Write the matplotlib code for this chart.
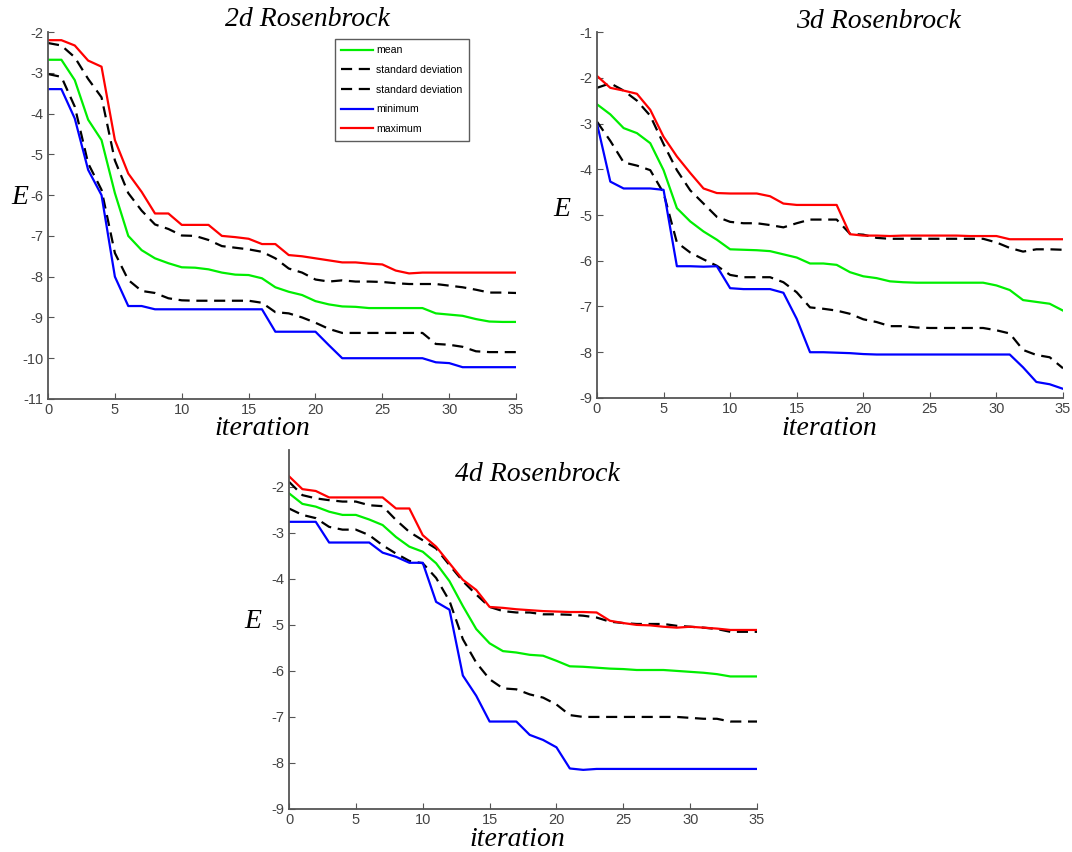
import matplotlib
matplotlib.use("Agg")
import matplotlib.pyplot as plt
import numpy as np

plt.rcParams["axes.unicode_minus"] = False

iters = np.arange(36)

# 2d Rosenbrock
max_2d = [-2.2, -2.2, -2.33, -2.7, -2.85, -4.65, -5.47, -5.92, -6.45, -6.45,
          -6.73, -6.73, -6.73, -7.0, -7.03, -7.07, -7.2, -7.2, -7.47, -7.5,
          -7.55, -7.6, -7.65, -7.65, -7.68, -7.7, -7.85, -7.92, -7.9, -7.9,
          -7.9, -7.9, -7.9, -7.9, -7.9, -7.9]
std_hi_2d = [-2.27, -2.33, -2.62, -3.15, -3.6, -5.15, -5.95, -6.38, -6.72, -6.83,
             -6.99, -7.0, -7.1, -7.25, -7.29, -7.33, -7.39, -7.55, -7.8, -7.9,
             -8.07, -8.12, -8.09, -8.12, -8.12, -8.13, -8.16, -8.18, -8.18, -8.18,
             -8.22, -8.26, -8.32, -8.39, -8.39, -8.4]
mean_2d = [-2.68, -2.68, -3.18, -4.15, -4.65, -5.95, -7.0, -7.35, -7.55, -7.67,
           -7.77, -7.78, -7.82, -7.9, -7.95, -7.96, -8.04, -8.26, -8.37, -8.45,
           -8.6, -8.68, -8.73, -8.74, -8.77, -8.77, -8.77, -8.77, -8.77, -8.9,
           -8.93, -8.96, -9.04, -9.1, -9.11, -9.11]
std_lo_2d = [-3.03, -3.1, -3.83, -5.22, -5.87, -7.42, -8.08, -8.35, -8.4, -8.53,
             -8.58, -8.59, -8.59, -8.59, -8.59, -8.59, -8.64, -8.87, -8.9, -9.0,
             -9.13, -9.28, -9.38, -9.38, -9.38, -9.38, -9.38, -9.38, -9.38, -9.65,
             -9.67, -9.72, -9.83, -9.85, -9.85, -9.85]
min_2d = [-3.4, -3.4, -4.12, -5.38, -6.0, -8.0, -8.72, -8.72, -8.8, -8.8,
          -8.8, -8.8, -8.8, -8.8, -8.8, -8.8, -8.8, -9.35, -9.35, -9.35,
          -9.35, -9.68, -10.0, -10.0, -10.0, -10.0, -10.0, -10.0, -10.0, -10.1,
          -10.12, -10.22, -10.22, -10.22, -10.22, -10.22]

# 3d Rosenbrock
max_3d = [-1.96, -2.22, -2.28, -2.35, -2.7, -3.29, -3.72, -4.08, -4.42, -4.52,
          -4.53, -4.53, -4.53, -4.59, -4.75, -4.78, -4.78, -4.78, -4.78, -5.42,
          -5.45, -5.45, -5.46, -5.45, -5.45, -5.45, -5.45, -5.45, -5.46, -5.46,
          -5.46, -5.53, -5.53, -5.53, -5.53, -5.53]
std_hi_3d = [-2.22, -2.12, -2.28, -2.5, -2.83, -3.45, -4.02, -4.46, -4.75, -5.04,
             -5.15, -5.18, -5.18, -5.22, -5.27, -5.18, -5.1, -5.1, -5.1, -5.41,
             -5.43, -5.5, -5.52, -5.52, -5.52, -5.52, -5.52, -5.52, -5.52, -5.52,
             -5.6, -5.72, -5.8, -5.75, -5.75, -5.76]
mean_3d = [-2.58, -2.8, -3.1, -3.21, -3.43, -4.02, -4.85, -5.14, -5.36, -5.54,
           -5.75, -5.76, -5.77, -5.79, -5.86, -5.93, -6.06, -6.06, -6.09, -6.25,
           -6.34, -6.38, -6.45, -6.47, -6.48, -6.48, -6.48, -6.48, -6.48, -6.48,
           -6.54, -6.64, -6.86, -6.9, -6.94, -7.09]
std_lo_3d = [-2.96, -3.38, -3.85, -3.92, -4.02, -4.52, -5.6, -5.82, -5.97, -6.11,
             -6.31, -6.36, -6.36, -6.36, -6.47, -6.69, -7.02, -7.05, -7.09, -7.16,
             -7.28, -7.34, -7.43, -7.43, -7.46, -7.47, -7.47, -7.47, -7.47, -7.47,
             -7.52, -7.59, -7.95, -8.06, -8.11, -8.35]
min_3d = [-3.0, -4.27, -4.42, -4.42, -4.42, -4.45, -6.12, -6.12, -6.13, -6.12,
          -6.6, -6.62, -6.62, -6.62, -6.7, -7.27, -8.0, -8.0, -8.01, -8.02,
          -8.04, -8.05, -8.05, -8.05, -8.05, -8.05, -8.05, -8.05, -8.05, -8.05,
          -8.05, -8.05, -8.33, -8.65, -8.7, -8.8]

# 4d Rosenbrock
max_4d = [-1.77, -2.05, -2.09, -2.23, -2.23, -2.23, -2.23, -2.23, -2.47, -2.47,
          -3.05, -3.3, -3.66, -4.02, -4.24, -4.61, -4.63, -4.66, -4.68, -4.7,
          -4.71, -4.72, -4.72, -4.73, -4.91, -4.96, -5.0, -5.01, -5.04, -5.06,
          -5.04, -5.06, -5.08, -5.11, -5.11, -5.11]
std_hi_4d = [-1.89, -2.18, -2.25, -2.29, -2.32, -2.32, -2.4, -2.42, -2.72, -2.98,
             -3.16, -3.34, -3.7, -4.05, -4.34, -4.61, -4.7, -4.73, -4.73, -4.77,
             -4.77, -4.78, -4.8, -4.84, -4.93, -4.96, -4.98, -4.98, -4.98, -5.02,
             -5.04, -5.06, -5.09, -5.15, -5.15, -5.15]
mean_4d = [-2.14, -2.37, -2.43, -2.54, -2.61, -2.61, -2.71, -2.83, -3.09, -3.3,
           -3.41, -3.66, -4.05, -4.59, -5.09, -5.4, -5.57, -5.6, -5.65, -5.67,
           -5.78, -5.9, -5.91, -5.93, -5.95, -5.96, -5.98, -5.98, -5.98, -6.0,
           -6.02, -6.04, -6.07, -6.12, -6.12, -6.12]
std_lo_4d = [-2.47, -2.61, -2.68, -2.87, -2.93, -2.93, -3.05, -3.27, -3.45, -3.61,
             -3.66, -3.98, -4.48, -5.31, -5.82, -6.18, -6.38, -6.4, -6.51, -6.58,
             -6.73, -6.96, -7.0, -7.0, -7.0, -7.0, -7.0, -7.0, -7.0, -7.0,
             -7.02, -7.04, -7.04, -7.1, -7.1, -7.1]
min_4d = [-2.76, -2.76, -2.76, -3.21, -3.21, -3.21, -3.21, -3.43, -3.52, -3.65,
          -3.65, -4.5, -4.67, -6.1, -6.54, -7.1, -7.1, -7.1, -7.39, -7.5,
          -7.66, -8.12, -8.15, -8.13, -8.13, -8.13, -8.13, -8.13, -8.13, -8.13,
          -8.13, -8.13, -8.13, -8.13, -8.13, -8.13]

labels = ["mean", "standard deviation", "standard deviation", "minimum", "maximum"]
titles = ["2d Rosenbrock", "3d Rosenbrock", "4d Rosenbrock"]

serif = "Liberation Serif"
sans = "Liberation Sans"


def draw(ax, mean, hi, lo, mn, mx, ylim, yticks):
    lines = []
    lines += ax.plot(iters, mean, color="#00ee00", lw=1.6)
    lines += ax.plot(iters, hi, color="black", lw=1.6, ls=(0, (5, 3)))
    lines += ax.plot(iters, lo, color="black", lw=1.6, ls=(0, (5, 3)))
    lines += ax.plot(iters, mn, color="#0000ff", lw=1.6)
    lines += ax.plot(iters, mx, color="#ff0000", lw=1.6)
    ax.set_xlim(0, 35)
    ax.set_ylim(*ylim)
    ax.set_xticks(range(0, 36, 5))
    ax.set_yticks(yticks)
    ax.spines["top"].set_visible(False)
    ax.spines["right"].set_visible(False)
    for s in ("left", "bottom"):
        ax.spines[s].set_color("#555555")
        ax.spines[s].set_linewidth(1.3)
    ax.tick_params(direction="in", length=4, color="#555555", labelcolor="#444444",
                   labelsize=10.5, pad=3)
    for lab in ax.get_xticklabels() + ax.get_yticklabels():
        lab.set_fontfamily(sans)
    return lines


fig = plt.figure(figsize=(10.72, 8.52), dpi=100)

ax1 = fig.add_axes([0.0448, 0.5317, 0.4366, 0.4307])
ax2 = fig.add_axes([0.5569, 0.5329, 0.4347, 0.4295])
ax3 = fig.add_axes([0.2696, 0.0505, 0.4366, 0.4213])

lines = draw(ax1, mean_2d, std_hi_2d, std_lo_2d, min_2d, max_2d, (-11, -2), range(-11, -1))
draw(ax2, mean_3d, std_hi_3d, std_lo_3d, min_3d, max_3d, (-9, -1), range(-9, 0))
draw(ax3, mean_4d, std_hi_4d, std_lo_4d, min_4d, max_4d, (-9, -1.2), range(-9, -1))

leg = fig.legend(lines, labels, loc="upper left", bbox_to_anchor=(335 / 1072, 1 - 39 / 852),
                 prop={"family": sans, "size": 7.6}, frameon=True, fancybox=False,
                 handlelength=3.0, handletextpad=0.3, labelspacing=0.92,
                 borderpad=0.6, borderaxespad=0)
leg.get_frame().set_edgecolor("#333333")
leg.get_frame().set_linewidth(1.0)

title_kw = dict(family=serif, style="italic", fontsize=20, ha="center", va="center")
fig.text(307 / 1072, 1 - 20 / 852, titles[0], **title_kw)
fig.text(878 / 1072, 1 - 22 / 852, titles[1], **title_kw)
fig.text(537 / 1072, 1 - 474 / 852, titles[2], **title_kw)

lab_kw = dict(family=serif, style="italic", fontsize=20, ha="center", va="center")
fig.text(20 / 1072, 1 - 198 / 852, "E", **lab_kw)
fig.text(562 / 1072, 1 - 210 / 852, "E", **lab_kw)
fig.text(253 / 1072, 1 - 622 / 852, "E", **lab_kw)
fig.text(262 / 1072, 1 - 428 / 852, "iteration", **lab_kw)
fig.text(829 / 1072, 1 - 428 / 852, "iteration", **lab_kw)
fig.text(517 / 1072, 1 - 840 / 852, "iteration", **lab_kw)

fig.savefig("out.png", dpi=100)
